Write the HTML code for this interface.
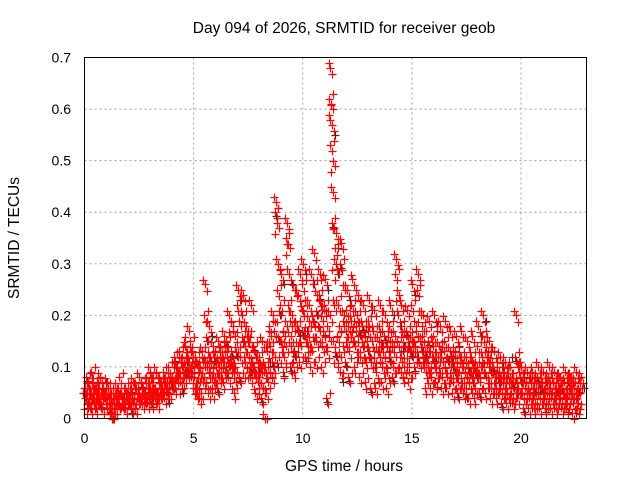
<!DOCTYPE html>
<html><head><meta charset="utf-8"><style>
body{margin:0;background:#fff}
svg{display:block;font-family:"Liberation Sans",sans-serif}
</style></head><body>
<svg id="chart" width="640" height="480">
<text x="344" y="33" font-size="15.5" text-anchor="middle">Day 094 of 2026, SRMTID for receiver geob</text>
<text x="344" y="471" font-size="15.5" text-anchor="middle">GPS time / hours</text>
<text transform="translate(19,238) rotate(-90)" font-size="15.5" text-anchor="middle">SRMTID / TECUs</text>
<g id="grid"></g>
<g id="ticks"></g>
<g id="black"></g>
<g id="red"></g>
<rect x="84.5" y="57.5" width="502" height="361" fill="none" stroke="#000"/>
</svg>
<script>
const xTicks=[0,5,10,15,20];
const yTicks=[0,0.1,0.2,0.3,0.4,0.5,0.6,0.7];
const yTickLabels=["0","0.1","0.2","0.3","0.4","0.5","0.6","0.7"];
const binWidth=0.25;
// red series: values in 0.01 TECU per 0.25 h bin starting at 0
const redBins=[
[4,6,3,5,8,2,4,7],[5,3,6,4,9,2,5,4],[4,6,3,5,7,2,8,4],[5,3,4,6,2,7,4,5],
[4,6,3,5,2,4],[0,1,3,5,2,4,6],[3,4,2,5,8,3,4],[4,3,5,2,6,3,4],
[3,5,4,2,6,4,7],[4,3,5,6,2,4,8],[5,4,6,3,7,4,5],[5,4,6,3,8,5,9],
[6,4,5,7,3,9,5],[5,6,4,8,3,6,7],[6,5,7,4,9,6,5],[7,6,8,5,10,6,7],
[8,7,9,6,12,7,10],[9,8,11,7,13,6,10],[10,12,9,14,8,17,11],[11,9,13,8,15,10,12],
[8,6,10,5,12,7,4],[9,11,7,13,5,10,8],[26,20,15,10,7,12,18,5],[9,12,7,14,5,11,8],
[10,13,8,15,6,12,9],[11,14,9,16,7,13,10],[12,15,10,20,8,18,11],[10,13,7,16,5,12,9],
[25,22,18,12,8,15,20],[24,20,16,11,14,9,17],[12,16,9,22,8,13,10],[10,14,7,12,5,9,11],
[8,12,6,15,4,10,9],[0,10,7,13,5,16,9],[14,18,10,20,8,16,12],[42,40,37,30,25,20,15,12],
[28,22,16,12,9,18,14],[38,35,33,28,22,18,14,10],[20,16,12,25,9,14,18],[24,18,14,28,11,16,21],
[30,26,22,16,12,19,14],[22,17,13,28,10,15,19],[32,26,20,15,11,17,23],[28,24,19,14,10,16,21],
[27,22,17,13,4,15,20],[68,62,60,57,53,49,44,38,30,22,15,12],[36,33,28,22,16,12,9,18],[34,30,25,20,14,10,17],
[25,21,17,13,8,15,19],[27,22,18,14,10,16,20],[24,20,16,12,8,14,18],[22,18,15,11,7,13,17],
[23,19,15,11,6,13,17],[21,17,13,9,6,12,15],[22,18,14,10,7,12,16],[20,16,13,9,6,11,15],
[22,18,14,10,8,12,16],[31,28,24,20,15,11,9],[22,18,14,10,8,13,16],[21,17,13,9,7,12,15],
[26,22,18,14,10,16,12],[28,25,20,15,11,17,13],[20,16,12,9,6,13,10],[19,15,12,8,6,11,14],
[20,16,12,9,7,11,14],[18,14,11,8,6,10,13],[19,15,11,8,6,10,13],[17,13,10,7,5,9,12],
[16,13,9,7,5,10,12],[17,12,9,6,5,8,11],[15,12,9,7,4,8,11],[16,12,9,6,4,8,10],
[18,14,10,7,5,9,12],[20,16,12,8,5,10,13],[15,12,9,6,4,8,10],[13,10,8,6,4,7,9],
[12,9,7,5,3,6,8],[11,9,7,5,3,6,8],[10,8,6,4,3,5,7],[20,12,9,6,4,7,10],
[10,8,6,4,2,5,7],[9,7,5,4,2,6,8],[9,7,5,3,2,6,8],[10,8,6,4,2,5,7],
[9,7,5,3,2,6,8],[10,8,5,4,2,6,7],[9,7,5,3,2,6,8],[8,6,5,3,2,4,7],
[9,7,5,3,2,6,8],[8,6,4,3,1,5,7],[9,7,5,3,2,6,8]
];
// black series: hours and values (TECU)
const blackTimes=[0.4,1.8,3.1,3.9,4.7,5.6,6.3,7.8,8.9,9.6,10.2,11.6,12.4,13.1,13.8,14.6,15.3,16.1,16.9,17.7,18.4,19.1,19.6,20.4,21.3,22.2];
const blackValues=[0.05,0.04,0.06,0.08,0.11,0.1,0.12,0.09,0.15,0.13,0.17,0.33,0.14,0.12,0.1,0.13,0.12,0.11,0.1,0.09,0.19,0.07,0.12,0.05,0.06,0.05];

const X=t=>84.5+t*(502/23);
const Y=v=>418.5-v*(361/0.7);
const NS="http://www.w3.org/2000/svg";
function mk(tag,attrs,parent){const e=document.createElementNS(NS,tag);for(const k in attrs)e.setAttribute(k,attrs[k]);parent.appendChild(e);return e;}
const grid=document.getElementById('grid'),ticks=document.getElementById('ticks');
xTicks.forEach(t=>{
 const x=X(t);
 if(t>0){const g=mk('line',{x1:x,x2:x,y1:57.5,y2:418.5,stroke:'#a0a0a0','stroke-dasharray':'2,3'},grid);
 
 }
 const l=mk('text',{x:x,y:443,'font-size':14,'text-anchor':'middle'},ticks);l.textContent=t;
 
 
});
yTicks.forEach((v,i)=>{
 const y=Y(v);
 if(i>0&&i<yTicks.length-1){const g=mk('line',{x1:84.5,x2:586.5,y1:y,y2:y,stroke:'#a0a0a0','stroke-dasharray':'2,3'},grid);
 
 }
 const l=mk('text',{x:71,y:y+5,'font-size':14,'text-anchor':'end'},ticks);l.textContent=yTickLabels[i];
 
 
});
function plus(g,t,v,c){
 const x=Math.round(X(t))+0.5,y=Math.round(Y(v))+0.5;
 const p=mk('path',{d:`M${x-4} ${y}H${x+4}M${x} ${y-4}V${y+4}`,stroke:c,'stroke-width':1.2,fill:'none'},g);
 
 
}
const bg=document.getElementById('black');
const rg=document.getElementById('red');
const dxs=[0,0.09,-0.08], dys=[0,-0.012,0.009];
redBins.forEach((vals,b)=>{
 vals.forEach((v,i)=>{
  for(let k=0;k<3;k++){
   const t=b*binWidth+(i+0.5)/vals.length*binWidth+dxs[(k+i)%3];
   const vv=v/100+dys[(k+2*i)%3];
   if(k===1 && (i+b)%4===0) plus(bg,t+0.05,Math.max(0,vv-0.008),'#303030');
   plus(rg,t,Math.max(0,vv),'#ff0000');
  }
 });
});
blackTimes.forEach((t,i)=>plus(bg,t,blackValues[i],'#303030'));
</script>
</body></html>
